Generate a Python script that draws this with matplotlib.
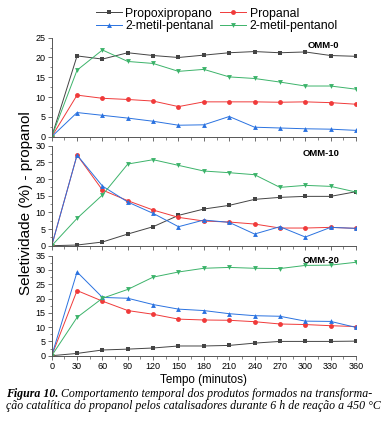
import matplotlib
matplotlib.use("Agg")
import matplotlib.pyplot as plt
from matplotlib.ticker import MultipleLocator
from matplotlib.lines import Line2D

time_min = [0, 30, 60, 90, 120, 150, 180, 210, 240, 270, 300, 330, 360]
series_names = ["Propoxipropano", "Propanal", "2-metil-pentanal", "2-metil-pentanol"]
panel_names = ["OMM-0", "OMM-10", "OMM-20"]
panel_ymax = [25, 30, 35]

# OMM-0
omm0_propoxipropano = [0, 20.4, 19.6, 21.2, 20.5, 20.0, 20.6, 21.2, 21.5, 21.2, 21.4, 20.5, 20.3]
omm0_propanal = [0, 10.5, 9.7, 9.4, 9.0, 7.6, 8.8, 8.8, 8.8, 8.7, 8.8, 8.6, 8.2]
omm0_metilpentanal = [0, 6.1, 5.4, 4.7, 3.9, 2.9, 3.0, 5.1, 2.4, 2.2, 2.0, 1.9, 1.6]
omm0_metilpentanol = [0, 16.8, 21.9, 19.0, 18.5, 16.5, 17.0, 15.1, 14.7, 13.8, 12.8, 12.8, 12.0]
# OMM-10
omm10_propoxipropano = [0, 0.2, 1.1, 3.5, 5.7, 9.1, 11.0, 12.1, 13.9, 14.5, 14.8, 14.8, 16.2]
omm10_propanal = [0, 27.2, 16.7, 13.5, 10.7, 8.5, 7.4, 7.1, 6.5, 5.3, 5.3, 5.5, 5.2]
omm10_metilpentanal = [0, 27.2, 17.9, 13.1, 9.7, 5.7, 7.7, 7.0, 3.5, 5.7, 2.6, 5.5, 5.2]
omm10_metilpentanol = [0, 8.2, 15.2, 24.5, 25.8, 24.1, 22.4, 21.9, 21.3, 17.5, 18.1, 17.8, 16.1]
# OMM-20
omm20_propoxipropano = [0, 0.8, 2.0, 2.3, 2.7, 3.4, 3.4, 3.6, 4.4, 5.0, 5.0, 5.0, 5.1]
omm20_propanal = [0, 22.8, 19.1, 15.8, 14.5, 12.8, 12.5, 12.4, 11.9, 11.1, 10.9, 10.5, 10.2]
omm20_metilpentanal = [0, 29.3, 20.4, 20.1, 17.9, 16.3, 15.8, 14.7, 14.0, 13.8, 12.1, 12.0, 9.9]
omm20_metilpentanol = [0, 13.4, 20.1, 23.2, 27.5, 29.3, 30.6, 30.9, 30.6, 30.5, 31.6, 31.7, 32.7]

panels = [
    [omm0_propoxipropano, omm0_propanal, omm0_metilpentanal, omm0_metilpentanol],
    [omm10_propoxipropano, omm10_propanal, omm10_metilpentanal, omm10_metilpentanol],
    [omm20_propoxipropano, omm20_propanal, omm20_metilpentanal, omm20_metilpentanol],
]

colors = ["#444444", "#f03a3a", "#2a72e0", "#3cb36a"]
markers = ["s", "o", "^", "v"]

plt.rcParams["font.family"] = ["Liberation Sans", "DejaVu Sans"]

W, H = 389, 436
fig = plt.figure(figsize=(W / 100, H / 100), dpi=100)

left_px, right_px = 51.7, 356.0
tops = [37.7, 145.7, 255.7]
bottoms = [136.7, 245.7, 355.7]
label_y = [0.923, 0.927, 0.957]

axes = []
for i in range(3):
    ax = fig.add_axes([left_px / W, 1 - bottoms[i] / H, (right_px - left_px) / W,
                       (bottoms[i] - tops[i]) / H])
    for k in range(4):
        ax.plot(time_min, panels[i][k], color=colors[k], marker=markers[k],
                markersize=3.5, linewidth=0.7, markeredgewidth=0)
    ax.set_xlim(0, 360)
    ax.set_ylim(0, panel_ymax[i])
    ax.xaxis.set_major_locator(MultipleLocator(30))
    ax.xaxis.set_minor_locator(MultipleLocator(15))
    ax.yaxis.set_major_locator(MultipleLocator(5))
    ax.yaxis.set_minor_locator(MultipleLocator(2.5))
    ax.spines["top"].set_visible(False)
    ax.spines["right"].set_visible(False)
    for sp in ["left", "bottom"]:
        ax.spines[sp].set_color("#555555")
        ax.spines[sp].set_linewidth(0.7)
    ax.tick_params(which="major", direction="out", length=3, width=0.6,
                   color="#555555", labelsize=6.5, pad=1.5)
    ax.tick_params(which="minor", direction="out", length=1.8, width=0.5,
                   color="#555555")
    if i < 2:
        ax.tick_params(axis="x", labelbottom=False)
    ax.patch.set_alpha(0)
    ax.text(0.945, label_y[i], panel_names[i], transform=ax.transAxes,
            ha="right", va="center", fontsize=6.8, fontweight="bold")
    axes.append(ax)

axes[2].set_xlabel("Tempo (minutos)", fontsize=8.4, labelpad=2.5)

ylab = fig.text(26 / W, 1 - 203 / H, "Seletividade (%) - propanol", rotation=90,
                ha="center", va="center", fontsize=10)
fig.canvas.draw()
ext = ylab.get_window_extent().height
ylab.set_fontsize(10 * 185 / ext)

handles = [Line2D([0], [0], color=colors[k], marker=markers[k], markersize=3.5,
                  linewidth=0.7, markeredgewidth=0) for k in range(4)]
order = [0, 2, 1, 3]
fig.legend([handles[k] for k in order], [series_names[k] for k in order], ncol=2,
           loc="center", bbox_to_anchor=(217 / W, 1 - 20 / H),
           frameon=False, fontsize=8.8, handlelength=2.1, handletextpad=0.3,
           columnspacing=0.55, labelspacing=0.05, borderpad=0)

cap_fs = 8.6
t1 = fig.text(6 / W, 1 - 394 / H, "Figura 10.", family=["Liberation Serif"], style="italic",
              fontweight="bold", fontsize=cap_fs, va="center", ha="left")
fig.canvas.draw()
bb = t1.get_window_extent()
fig.text((bb.x1 + 2.5) / W, 1 - 394 / H,
         "Comportamento temporal dos produtos formados na transforma-",
         family=["Liberation Serif"], style="italic", fontsize=cap_fs, va="center", ha="left")
fig.text(6 / W, 1 - 406 / H,
         "ção catalítica do propanol pelos catalisadores durante 6 h de reação a 450 °C",
         family=["Liberation Serif"], style="italic", fontsize=cap_fs, va="center", ha="left")

fig.savefig("out.png", dpi=100)
